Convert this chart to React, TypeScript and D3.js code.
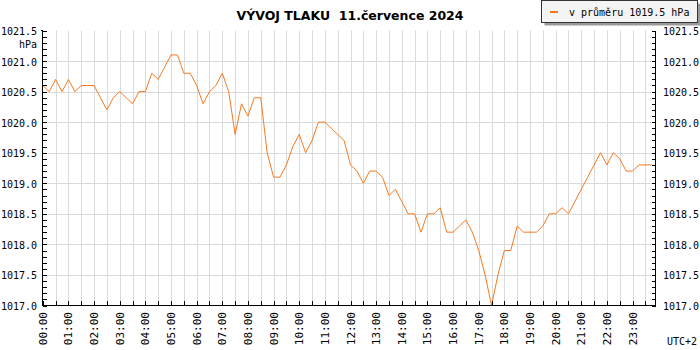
import * as d3 from "d3";

// tlak po 15 minutach, 00:00 .. 23:45
const pressure = [
  1020.6, 1020.5, 1020.7, 1020.5, 1020.7, 1020.5, 1020.6, 1020.6,
  1020.6, 1020.4, 1020.2, 1020.4, 1020.5, 1020.4, 1020.3, 1020.5,
  1020.5, 1020.8, 1020.7, 1020.9, 1021.1, 1021.1, 1020.8, 1020.8,
  1020.6, 1020.3, 1020.5, 1020.6, 1020.8, 1020.5, 1019.8, 1020.3,
  1020.1, 1020.4, 1020.4, 1019.5, 1019.1, 1019.1, 1019.3, 1019.6,
  1019.8, 1019.5, 1019.7, 1020.0, 1020.0, 1019.9, 1019.8, 1019.7,
  1019.3, 1019.2, 1019.0, 1019.2, 1019.2, 1019.1, 1018.8, 1018.9,
  1018.7, 1018.5, 1018.5, 1018.2, 1018.5, 1018.5, 1018.6, 1018.2,
  1018.2, 1018.3, 1018.4, 1018.2, 1017.9, 1017.5, 1017.0, 1017.5,
  1017.9, 1017.9, 1018.3, 1018.2, 1018.2, 1018.2, 1018.3, 1018.5,
  1018.5, 1018.6, 1018.5, 1018.7, 1018.9, 1019.1, 1019.3, 1019.5,
  1019.3, 1019.5, 1019.4, 1019.2, 1019.2, 1019.3, 1019.3, 1019.3,
];
const STEP_HOURS = 0.25;

const hourLabels = [
  "00:00", "01:00", "02:00", "03:00", "04:00", "05:00", "06:00", "07:00",
  "08:00", "09:00", "10:00", "11:00", "12:00", "13:00", "14:00", "15:00",
  "16:00", "17:00", "18:00", "19:00", "20:00", "21:00", "22:00", "23:00",
];
const pressureLabels = [
  "1017.0", "1017.5", "1018.0", "1018.5", "1019.0",
  "1019.5", "1020.0", "1020.5", "1021.0", "1021.5",
];

const title = "VÝVOJ TLAKU  11.července 2024";
const legendText = "v průměru 1019.5 hPa";

const W = 700;
const H = 350;
const left = 42.5;
const right = 655.5;
const top = 30.5;
const bottom = 305.5;
const mono = "'DejaVu Sans Mono', monospace";
const orange = "#f47a20";
const gridColor = "#dadada";

export default function App() {
  // 24:00 lies just past the right axis, the plot is cut at 655
  const x = d3.scaleLinear().domain([0, 24]).range([left + 0.3, 658.2]);
  const y = d3.scaleLinear().domain([1017, 1021.5]).range([bottom, top]);

  const line = d3.line<number>()
    .x((_, i) => x(i * STEP_HOURS))
    .y((d) => y(d));

  const halfHours = d3.range(0, 24.01, 0.5).filter((h) => x(h) < right - 1);
  const minorP = d3.range(10170, 10215.1, 1).map((v) => v / 10);
  const majorP = pressureLabels.map(Number);
  const px = (v: number) => Math.round(v) + 0.5;

  return (
    <svg width={W} height={H} style={{ display: "block", position: "absolute", left: 0, top: 0, background: "#fff" }}>
      <defs>
        <clipPath id="plot">
          <rect x={left} y={top - 2} width={right - left} height={bottom - top + 4} />
        </clipPath>
      </defs>

      {/* mrizka */}
      <g stroke={gridColor} strokeWidth={1}>
        {halfHours.filter((h) => h > 0).map((h) => (
          <line key={"v" + h} x1={px(x(h))} x2={px(x(h))} y1={top} y2={bottom} />
        ))}
        {majorP.filter((p) => p > 1017 && p < 1021.5).map((p) => (
          <line key={"h" + p} x1={left} x2={right} y1={px(y(p))} y2={px(y(p))} />
        ))}
      </g>

      <path d={line(pressure) ?? ""} fill="none" stroke={orange} strokeWidth={1} clipPath="url(#plot)" />

      {/* osy */}
      <g stroke="#000" strokeWidth={1} shapeRendering="crispEdges">
        <line x1={left} x2={left} y1={top} y2={bottom} />
        <line x1={right} x2={right} y1={top} y2={bottom} />
        <line x1={left} x2={right} y1={bottom} y2={bottom} />
        <line x1={left - 2} x2={left} y1={top} y2={top} />
        {minorP.map((p) => (
          <g key={"t" + p}>
            <line x1={left} x2={left + 4} y1={px(y(p))} y2={px(y(p))} />
            <line x1={right - 4} x2={right} y1={px(y(p))} y2={px(y(p))} />
          </g>
        ))}
        {halfHours.map((h) => (
          <line key={"b" + h} x1={px(x(h))} x2={px(x(h))} y1={bottom} y2={bottom - 5} />
        ))}
      </g>

      {/* popisky */}
      <g fontFamily={mono} fontSize={10} fill="#000">
        {pressureLabels.map((lab, i) => (
          <g key={lab}>
            <text x={37} y={y(majorP[i]) + 4.5} textAnchor="end">{lab}</text>
            <text x={663} y={y(majorP[i]) + 4.5}>{lab}</text>
          </g>
        ))}
        <text x={37} y={48} textAnchor="end">hPa</text>
        {hourLabels.map((lab, i) => (
          <text
            key={lab}
            transform={`translate(${x(i) + 4},312) rotate(-90)`}
            textAnchor="end"
            fontSize={11}
          >
            {lab}
          </text>
        ))}
        <text x={697} y={345} textAnchor="end">UTC+2</text>
      </g>

      <text
        x={350}
        y={20}
        textAnchor="middle"
        fontFamily="'DejaVu Sans', sans-serif"
        fontWeight="bold"
        fontSize={12.5}
        style={{ whiteSpace: "pre" }}
      >
        {title}
      </text>

      {/* legenda */}
      <g>
        <rect x={544.5} y={3.5} width={156} height={22} fill="#9a9a9a" stroke="none" />
        <rect x={541.5} y={0.5} width={156} height={22} fill="#f4f4f4" stroke="#333" strokeWidth={1} />
        <line x1={550} x2={558} y1={12} y2={12} stroke={orange} strokeWidth={2} />
        <text x={569} y={15.5} fontFamily={mono} fontSize={10}>{legendText}</text>
      </g>
    </svg>
  );
}
